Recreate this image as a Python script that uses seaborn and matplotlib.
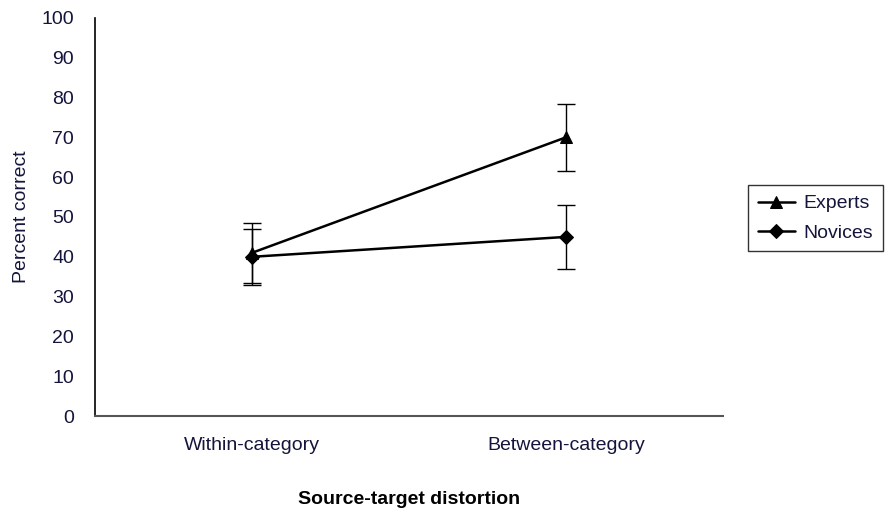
import matplotlib
matplotlib.use("Agg")
import matplotlib.pyplot as plt
import seaborn as sns
import pandas as pd

# Condition means and standard errors (percent correct)
categories = ["Within-category", "Between-category"]
experts_mean = [41, 70]
experts_err = [7.5, 8.5]
novices_mean = [40, 45]
novices_err = [7, 8]
groups = ["Experts", "Novices"]
y_ticks = list(range(0, 101, 10))

df = pd.DataFrame({
    "condition": categories * 2,
    "group": [groups[0]] * 2 + [groups[1]] * 2,
    "percent": experts_mean + novices_mean,
    "err": experts_err + novices_err,
})

sns.set_style("white")
plt.rcParams["font.family"] = ["Liberation Sans", "DejaVu Sans"]

fig = plt.figure(figsize=(8.93, 5.13), dpi=100)
ax = fig.add_axes([0.1064, 0.189, 0.703, 0.776])

text_col = "#14143c"
fs = 14

sns.lineplot(data=df, x="condition", y="percent", style="group", markers={"Experts": "^", "Novices": "D"},
             dashes=False, color="black", linewidth=1.8, markersize=9, markeredgecolor="black",
             ax=ax, legend=True, sort=False)
for ln in ax.lines:
    if ln.get_marker() == "D":
        ln.set_markersize(7)

xpos = {c: i for i, c in enumerate(categories)}
for _, row in df.iterrows():
    ax.errorbar(xpos[row["condition"]], row["percent"], yerr=row["err"], fmt="none",
                ecolor="black", elinewidth=1.0, capsize=6.5, capthick=1.0, zorder=1)

ax.set_xlim(-0.5, 1.5)
ax.set_ylim(0, 100)
ax.set_yticks(y_ticks)
ax.set_yticklabels([str(v) for v in y_ticks], fontsize=fs, color=text_col)
ax.set_xticks([0, 1])
ax.set_xticklabels(categories, fontsize=fs, color=text_col)
ax.set_xticks([-0.5, 0.5, 1.5], minor=True)
ax.tick_params(axis="x", which="major", length=0, pad=15)
ax.tick_params(axis="x", which="minor", length=5, width=1, color="#555555", direction="out")
ax.tick_params(axis="y", which="major", length=5, width=1, color="black", direction="out", pad=10)

for side in ["top", "right"]:
    ax.spines[side].set_visible(False)
ax.spines["left"].set_color("black")
ax.spines["left"].set_linewidth(1.2)
ax.spines["bottom"].set_color("#555555")
ax.spines["bottom"].set_linewidth(1.5)

ax.set_ylabel("Percent correct", fontsize=fs, color=text_col, labelpad=8)
ax.set_xlabel("Source-target distortion", fontsize=fs, fontweight="bold", color="black", labelpad=27)

handles, labels = ax.get_legend_handles_labels()
for h in handles:
    if h.get_marker() == "D":
        h.set_markersize(7)
leg = ax.legend(handles, labels, loc="center left", bbox_to_anchor=(1.04, 0.497), fontsize=fs,
                frameon=True, fancybox=False, edgecolor="black", handlelength=1.9,
                handletextpad=0.45, borderpad=0.5, labelspacing=0.6, borderaxespad=0)
leg.get_frame().set_linewidth(1.0)
for t in leg.get_texts():
    t.set_color(text_col)

fig.savefig("out.png", dpi=100)
